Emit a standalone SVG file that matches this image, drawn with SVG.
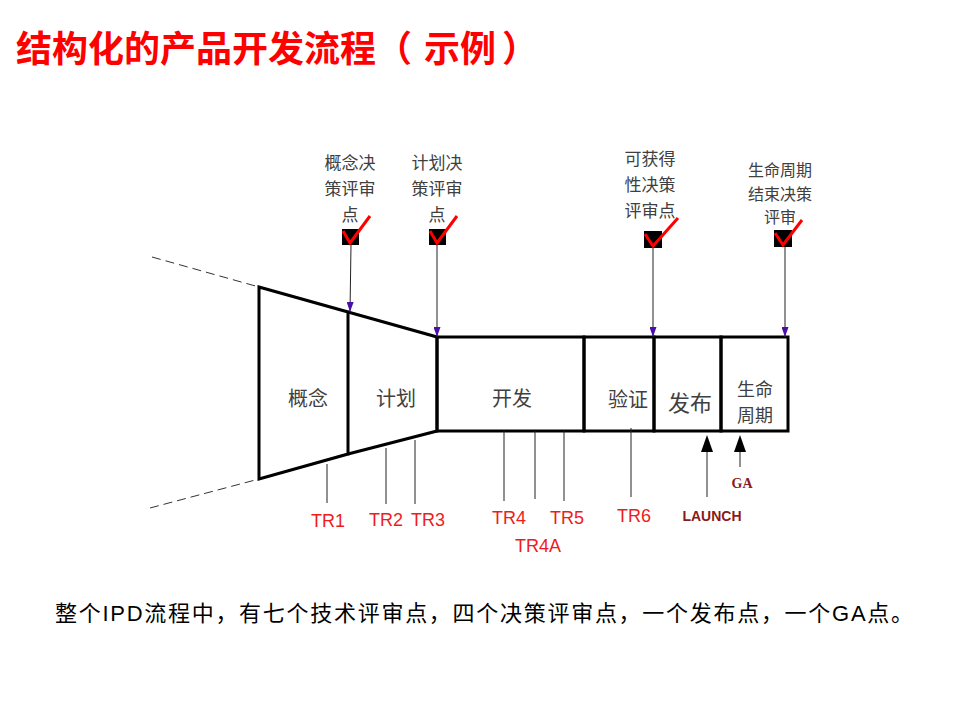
<svg xmlns="http://www.w3.org/2000/svg" width="960" height="720" viewBox="0 0 960 720">
<style>
.bg{fill:#ffffff}
.title{font-family:"Noto Sans CJK SC","Noto Sans",sans-serif;font-weight:bold;font-size:36px;fill:#ff0000}
.cap{font-family:"Liberation Sans","Noto Sans CJK SC",sans-serif;font-size:22px;fill:#000000}
.lbl{font-family:"Noto Sans CJK SC",sans-serif;font-size:17px;fill:#404040;text-anchor:middle;dominant-baseline:central}
.stage{font-family:"Noto Sans CJK SC",sans-serif;font-size:20px;fill:#404040;text-anchor:middle;dominant-baseline:central}
.tr{font-family:"Liberation Sans",Arial,sans-serif;font-size:18px;fill:#ee1c1c;text-anchor:middle}
.launch{font-family:"Liberation Sans",Arial,sans-serif;font-weight:bold;font-size:14px;fill:#8b1a1a;text-anchor:middle}
.ga{font-family:"Liberation Serif","Times New Roman",serif;font-weight:bold;font-size:14px;fill:#8b1a1a;text-anchor:middle}
.thick{fill:none;stroke:#000000;stroke-width:3;stroke-linejoin:miter}
.thin{fill:none;stroke:#222222;stroke-width:1}
.dash{fill:none;stroke:#333333;stroke-width:1;stroke-dasharray:9 5}
.box{fill:#000000}
.check{fill:none;stroke:#ff0000;stroke-width:3;stroke-linejoin:miter}
.head{fill:#000000}
</style>
<defs>
<marker id="purple" markerUnits="userSpaceOnUse" markerWidth="10" markerHeight="7" refX="10" refY="3.5" orient="auto" viewBox="0 0 10 7">
<path d="M0,0 L10,3.5 L0,7 z" fill="#4a0fa8"/>
</marker>
</defs>
<rect class="bg" x="0" y="0" width="960" height="720"/>

<g id="title">
<text class="title" y="62"><tspan x="16">结构化的产品开发流程（</tspan><tspan x="424">示例</tspan><tspan x="502">）</tspan></text>
</g>

<g id="funnel-guides">
<line class="dash" x1="152" y1="257" x2="259" y2="287"/>
<line class="dash" x1="150" y1="508" x2="259" y2="479"/>
</g>

<g id="stage-concept">
<path class="thick" d="M259,287 L348,312 L348,454 L259,479 Z"/>
<text class="stage" x="308" y="397">概念</text>
</g>
<g id="stage-plan">
<path class="thick" d="M348,312 L437,337 L437,431 L348,454"/>
<text class="stage" x="396" y="397">计划</text>
</g>
<g id="stage-develop">
<rect class="thick" x="437" y="337" width="147" height="94"/>
<text class="stage" x="512" y="397">开发</text>
</g>
<g id="stage-verify">
<rect class="thick" x="584" y="337" width="70" height="94"/>
<text class="stage" x="628" y="398">验证</text>
</g>
<g id="stage-release">
<rect class="thick" x="654" y="337" width="67" height="94"/>
<text class="stage" x="690" y="401" style="font-size:22px">发布</text>
</g>
<g id="stage-lifecycle">
<rect class="thick" x="721" y="337" width="67" height="94"/>
<text class="stage" x="755" y="388" style="font-size:18px">生命</text>
<text class="stage" x="755" y="414" style="font-size:18px">周期</text>
</g>

<g id="dcp-concept">
<text class="lbl" x="350" y="161">概念决</text>
<text class="lbl" x="350" y="187">策评审</text>
<text class="lbl" x="350" y="213">点</text>
<rect class="box" x="342" y="229" width="17" height="16"/>
<path class="check" d="M343,231 L350,243 L370,216"/>
</g>
<g id="dcp-plan">
<text class="lbl" x="437" y="161">计划决</text>
<text class="lbl" x="437" y="187">策评审</text>
<text class="lbl" x="437" y="213">点</text>
<rect class="box" x="429" y="229" width="17" height="16"/>
<path class="check" d="M430,231 L437,243 L457,216"/>
</g>
<g id="dcp-availability">
<text class="lbl" x="650" y="157">可获得</text>
<text class="lbl" x="650" y="183">性决策</text>
<text class="lbl" x="650" y="209">评审点</text>
<rect class="box" x="644" y="231" width="18" height="17"/>
<path class="check" d="M645,234 L653,246 L678,218"/>
</g>
<g id="dcp-eol">
<text class="lbl" x="780" y="169" style="font-size:16px">生命周期</text>
<text class="lbl" x="780" y="193" style="font-size:16px">结束决策</text>
<text class="lbl" x="780" y="216" style="font-size:16px">评审</text>
<rect class="box" x="774" y="230" width="18" height="17"/>
<path class="check" d="M775,233 L783,245 L802,220"/>
</g>

<g id="tr1"><text class="tr" x="328" y="527">TR1</text></g>
<g id="tr2"><text class="tr" x="386" y="526">TR2</text></g>
<g id="tr3"><text class="tr" x="428" y="526">TR3</text></g>
<g id="tr4"><text class="tr" x="509" y="524">TR4</text></g>
<g id="tr4a"><text class="tr" x="538" y="552">TR4A</text></g>
<g id="tr5"><text class="tr" x="567" y="524">TR5</text></g>
<g id="tr6"><text class="tr" x="634" y="522">TR6</text></g>
<g id="launch"><text class="launch" x="712" y="521">LAUNCH</text></g>
<g id="ga"><text class="ga" x="742" y="488">GA</text></g>

<g id="connectors">
<line class="thin" x1="351" y1="245" x2="350" y2="312" marker-end="url(#purple)"/>
<line class="thin" x1="437" y1="245" x2="437" y2="337" marker-end="url(#purple)"/>
<line class="thin" x1="653" y1="248" x2="653" y2="337" marker-end="url(#purple)"/>
<line class="thin" x1="785" y1="247" x2="785" y2="337" marker-end="url(#purple)"/>
<line class="thin" x1="327" y1="464" x2="327" y2="503"/>
<line class="thin" x1="386" y1="448" x2="386" y2="504"/>
<line class="thin" x1="415" y1="440" x2="415" y2="504"/>
<line class="thin" x1="504" y1="431" x2="504" y2="501"/>
<line class="thin" x1="535" y1="431" x2="535" y2="499"/>
<line class="thin" x1="564" y1="431" x2="564" y2="501"/>
<line class="thin" x1="631" y1="428" x2="631" y2="497"/>
<line class="thin" x1="707" y1="497" x2="707" y2="450"/>
<polygon class="head" points="707,435 701,452 713,452"/>
<line class="thin" x1="740" y1="467" x2="740" y2="450"/>
<polygon class="head" points="740,435 734,452 746,452"/>
</g>

<g id="caption">
<text class="cap" x="55" y="621" textLength="858" lengthAdjust="spacing">整个IPD流程中，有七个技术评审点，四个决策评审点，一个发布点，一个GA点。</text>
</g>
</svg>
